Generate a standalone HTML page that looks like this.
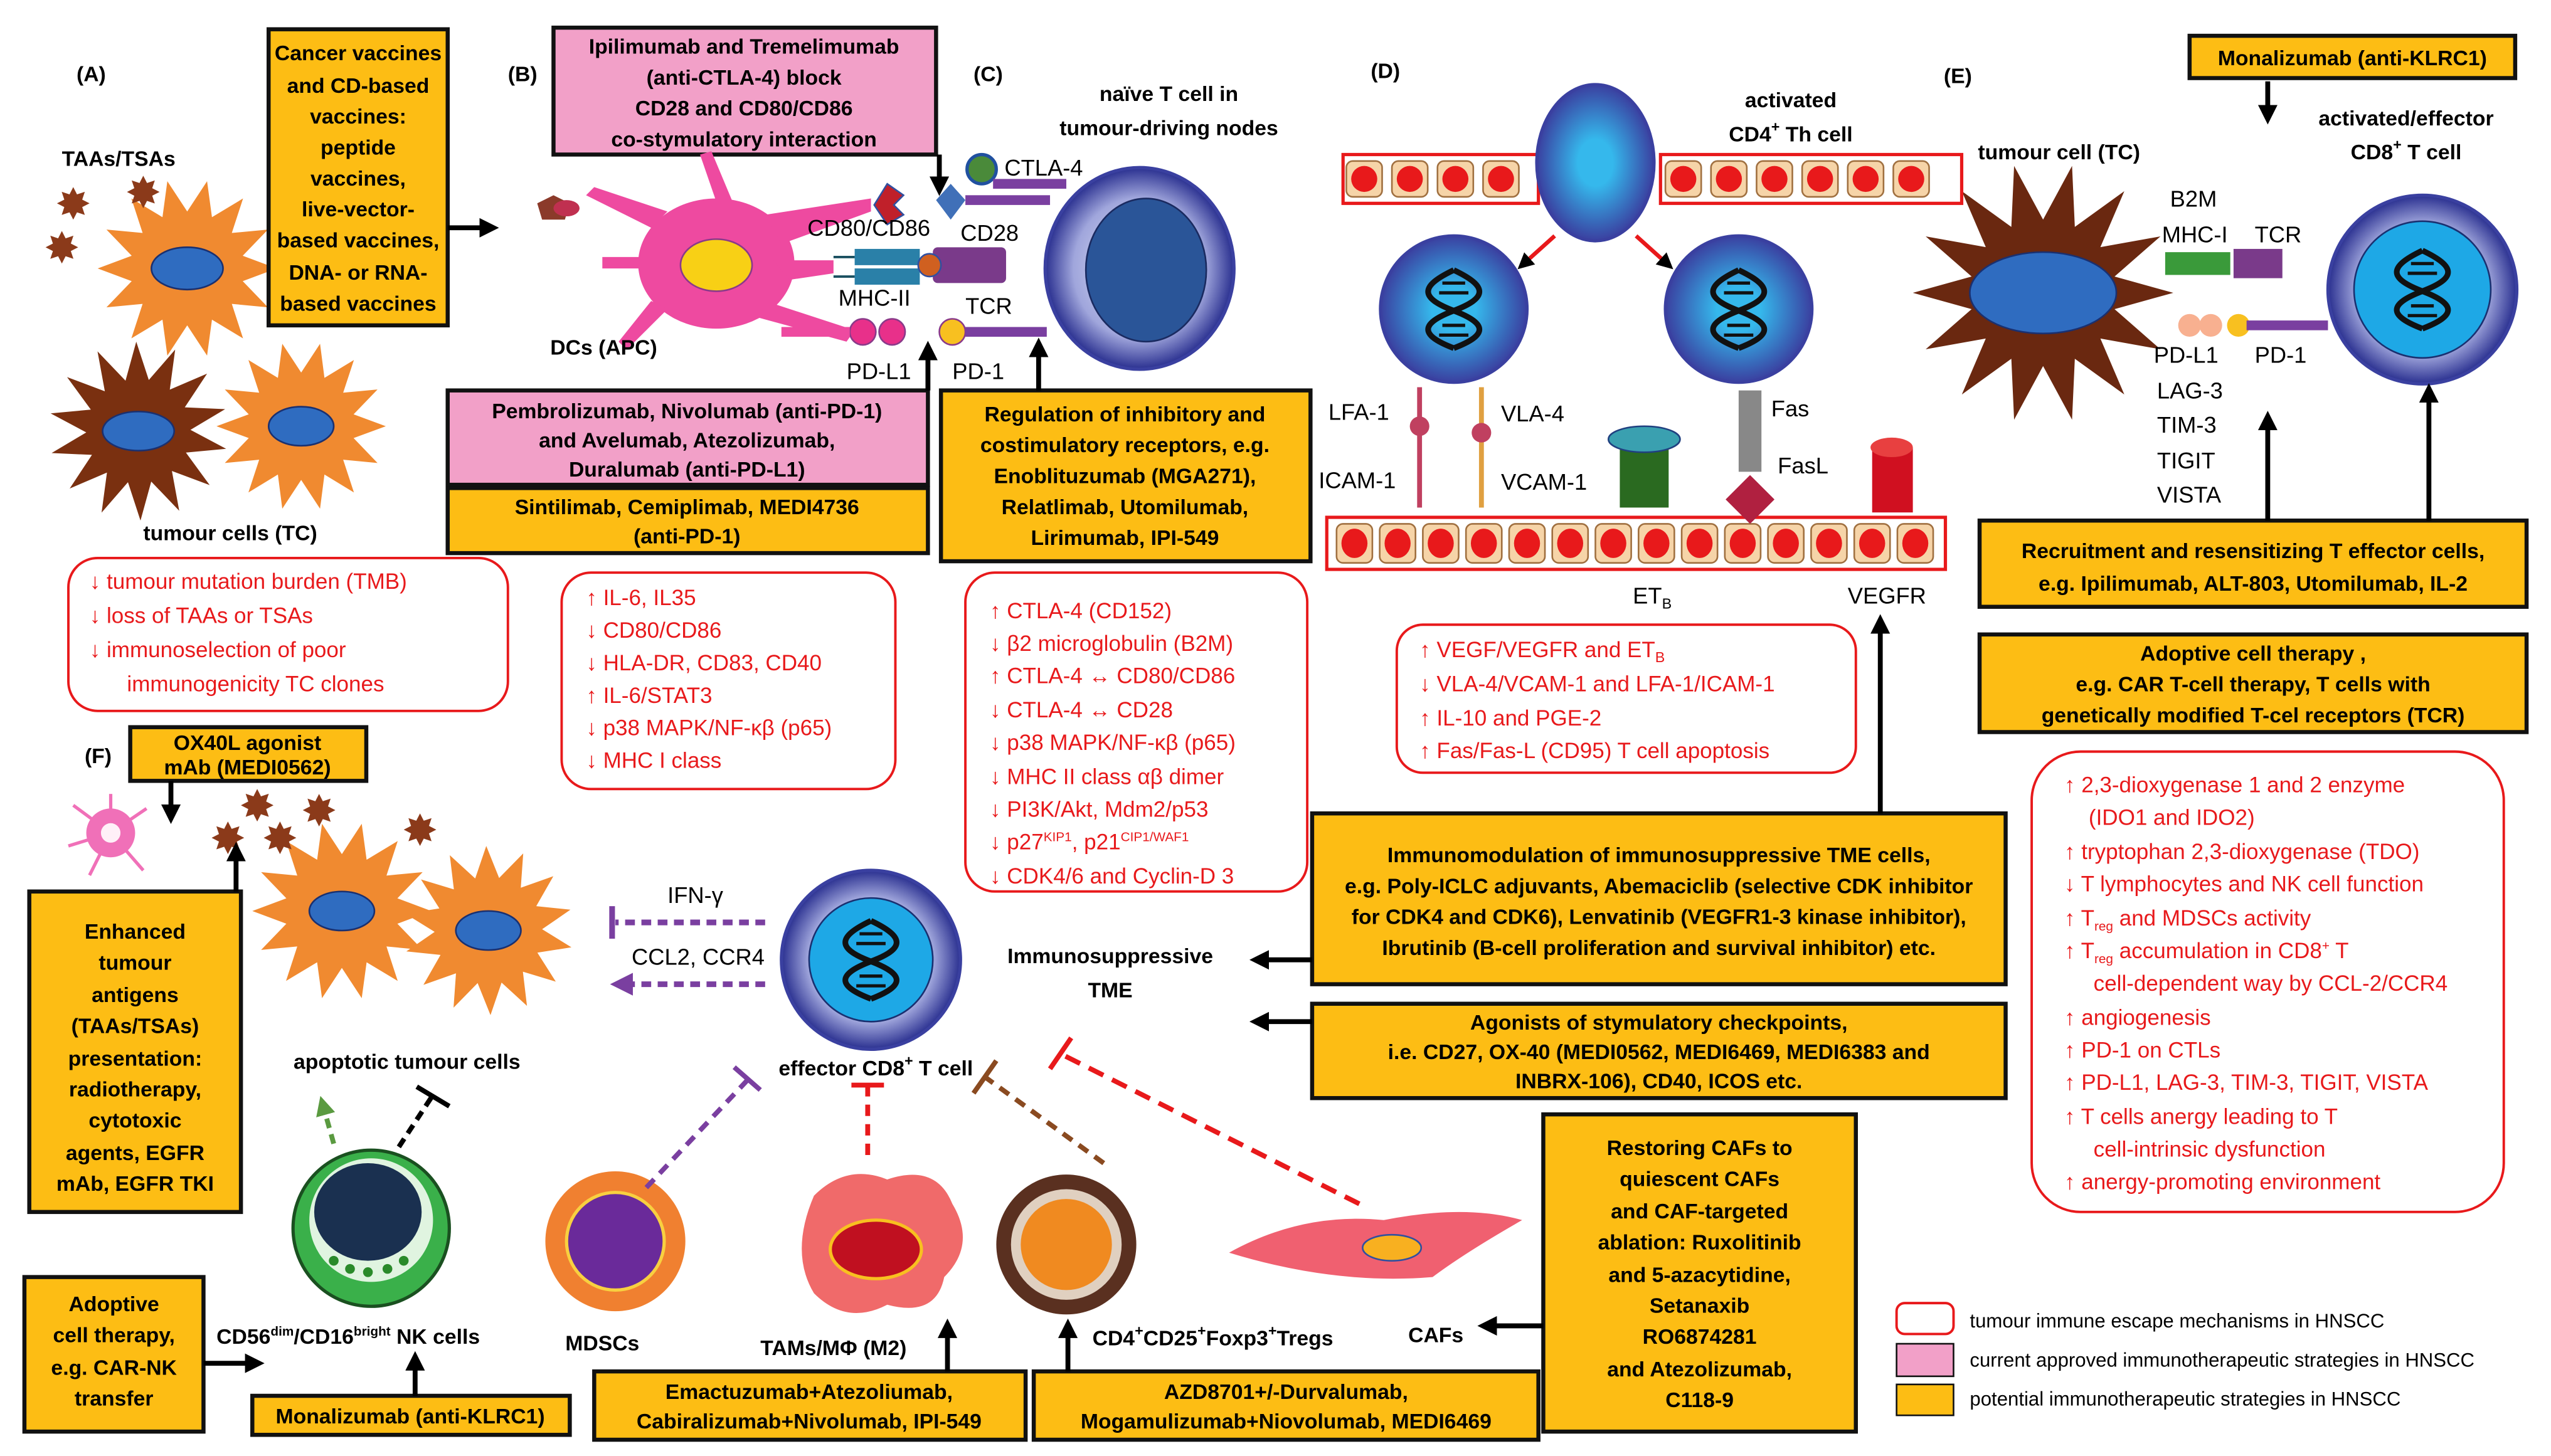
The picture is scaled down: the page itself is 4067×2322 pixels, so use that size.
<!DOCTYPE html>
<html><head><meta charset="utf-8"><style>
html,body{margin:0;padding:0;background:#fff;}
svg{display:block;}
text{font-family:"Liberation Sans",sans-serif;}
.b{font-weight:bold;font-size:13px;}
.l{font-size:14px;}
.r{font-size:13.5px;fill:#e8191b;}
.y{fill:#fdbd14;stroke:#111;stroke-width:2.5;}
.p{fill:#f2a0c8;stroke:#111;stroke-width:2.5;}
.rb{fill:#fff;stroke:#e8191b;stroke-width:1.5;}
.ar{stroke:#000;stroke-width:3;fill:none;marker-end:url(#ah);}
</style></head><body>
<svg width="4067" height="2322" viewBox="0 0 1567 895" preserveAspectRatio="none" xmlns="http://www.w3.org/2000/svg">
<defs>
<marker id="ah" markerWidth="4" markerHeight="4" refX="2.5" refY="2" orient="auto"><path d="M0,0 L4,2 L0,4z" fill="#000"/></marker>
<marker id="gh" markerWidth="4" markerHeight="4" refX="2.5" refY="2" orient="auto"><path d="M0,0 L4,2 L0,4z" fill="#5a9a40"/></marker>
<marker id="ph" markerWidth="4" markerHeight="4" refX="2.5" refY="2" orient="auto"><path d="M0,0 L4,2 L0,4z" fill="#7a3fa0"/></marker>
<radialGradient id="tc"><stop offset="0" stop-color="#e8eaf8"/><stop offset="0.7" stop-color="#a0a6dc"/><stop offset="1" stop-color="#2a3090"/></radialGradient>
<radialGradient id="ac"><stop offset="0.3" stop-color="#35b8ec"/><stop offset="1" stop-color="#3a40a0"/></radialGradient>
<g id="dna" fill="none" stroke="#111" stroke-width="3.5">
<path d="M-9,-20 C12,-10 12,-3 -9,5 C-30,13 -30,20 -9,28" transform="translate(9,-4)"/>
<path d="M9,-24 C-12,-14 -12,-7 9,1 C30,9 30,16 9,24" transform="translate(-9,0)"/>
<g stroke-width="2"><line x1="-7" y1="-16" x2="7" y2="-16"/><line x1="-9" y1="-10" x2="9" y2="-10"/><line x1="-7" y1="10" x2="7" y2="10"/><line x1="-9" y1="16" x2="9" y2="16"/></g>
</g>
</defs>
<rect width="1567" height="895" fill="#fff"/>

<g id="stars"></g>

<!-- ===== A ===== -->
<text x="47" y="50" class="b" font-size="15">(A)</text>
<text x="38" y="102" class="b" font-size="14">TAAs/TSAs</text>
<text x="88" y="332" class="b" font-size="14">tumour cells (TC)</text>
<rect x="165" y="18" width="110" height="182" class="y"/>
<g class="b" text-anchor="middle">
<text x="220" y="37">Cancer vaccines</text><text x="220" y="57">and CD-based</text><text x="220" y="76">vaccines:</text><text x="220" y="95">peptide</text><text x="220" y="114">vaccines,</text><text x="220" y="133">live-vector-</text><text x="220" y="152">based vaccines,</text><text x="220" y="172">DNA- or RNA-</text><text x="220" y="191">based vaccines</text>
</g>
<line x1="275" y1="140" x2="302" y2="140" class="ar"/>
<rect x="42" y="343" width="270" height="94" rx="18" class="rb"/>
<g class="r"><text x="55" y="362">↓  tumour mutation burden (TMB)</text><text x="55" y="383">↓  loss of TAAs or TSAs</text><text x="55" y="404">↓  immunoselection of poor</text><text x="78" y="425">immunogenicity TC clones</text></g>

<!-- ===== B ===== -->
<text x="312" y="50" class="b" font-size="15">(B)</text>
<rect x="340" y="17" width="235" height="78" class="p"/>
<g class="b" text-anchor="middle"><text x="457" y="33">Ipilimumab and Tremelimumab</text><text x="457" y="52">(anti-CTLA-4) block</text><text x="457" y="71">CD28 and CD80/CD86</text><text x="457" y="90">co-stymulatory interaction</text></g>
<line x1="577" y1="95" x2="577" y2="116" class="ar"/>
<g fill="#ee4aa0">
<ellipse cx="440" cy="162" rx="48" ry="40"/>
<path d="M470,132 L535,122 L535,130 L480,150z"/>
<path d="M475,160 L512,160 L512,168 L485,172z"/>
<path d="M470,185 L525,203 L520,210 L465,195z"/>
<path d="M400,140 L360,120 L365,115 L410,130z"/>
<path d="M410,190 L385,215 L380,210 L400,185z"/>
<path d="M440,124 L430,95 L437,93 L450,124z"/>
<path d="M405,165 L370,165 L370,158 L405,158z"/>
</g>
<ellipse cx="440" cy="163" rx="22" ry="16" fill="#f8d015" stroke="#8a3a8a"/>
<path d="M330,125 l10,-5 10,5 -3,10 -14,0z" fill="#8b3a2a"/>
<ellipse cx="348" cy="128" rx="8" ry="5" fill="#c03050"/>
<text x="338" y="218" class="b" font-size="14">DCs (APC)</text>
<path d="M545,113 l10,7 -6,6 6,6 -10,6 -8,-12z" fill="#c0202a" stroke="#3050a0"/>
<path d="M575,123 l9,-10 9,10 -9,12z" fill="#4070b8"/>
<rect x="593" y="120" width="52" height="6" fill="#7a3fa0"/>
<circle cx="603" cy="104" r="9" fill="#4a8a3a" stroke="#2050a0" stroke-width="2"/>
<rect x="610" y="110" width="45" height="6" fill="#7a3fa0"/>
<line x1="512" y1="158" x2="525" y2="158" stroke="#1a5060" stroke-width="1.5"/>
<line x1="512" y1="170" x2="525" y2="170" stroke="#1a5060" stroke-width="1.5"/>
<rect x="525" y="153" width="40" height="10" fill="#2a80a8"/><rect x="525" y="165" width="40" height="10" fill="#2a80a8"/>
<rect x="573" y="152" width="45" height="22" fill="#7a3a8a" rx="3"/>
<circle cx="571" cy="163" r="7" fill="#d06020" stroke="#3050a0"/>
<circle cx="530" cy="204" r="8" fill="#e8308a" stroke="#8a3a8a"/><circle cx="548" cy="204" r="8" fill="#e8308a" stroke="#8a3a8a"/>
<circle cx="585" cy="204" r="8" fill="#f8c020" stroke="#8a3a8a"/>
<rect x="480" y="201" width="42" height="6" fill="#ee4aa0"/>
<rect x="593" y="201" width="50" height="6" fill="#7a3fa0"/>
<g class="l"><text x="496" y="145">CD80/CD86</text><text x="590" y="148">CD28</text><text x="617" y="108">CTLA-4</text><text x="515" y="188">MHC-II</text><text x="593" y="193">TCR</text><text x="520" y="233">PD-L1</text><text x="585" y="233">PD-1</text></g>
<ellipse cx="700" cy="165" rx="58" ry="62" fill="url(#tc)" stroke="#3a40a0" stroke-width="2"/>
<ellipse cx="704" cy="166" rx="37" ry="44" fill="#2a5598" stroke="#1a2a60"/>
<text x="718" y="62" class="b" font-size="15" text-anchor="middle">naïve T cell in</text>
<text x="718" y="83" class="b" font-size="15" text-anchor="middle">tumour-driving nodes</text>
<rect x="275" y="240" width="295" height="58" class="p"/>
<g class="b" text-anchor="middle"><text x="422" y="257">Pembrolizumab, Nivolumab (anti-PD-1)</text><text x="422" y="275">and Avelumab, Atezolizumab,</text><text x="422" y="293">Duralumab (anti-PD-L1)</text></g>
<rect x="275" y="300" width="295" height="40" class="y"/>
<g class="b" text-anchor="middle"><text x="422" y="316">Sintilimab, Cemiplimab, MEDI4736</text><text x="422" y="334">(anti-PD-1)</text></g>
<line x1="570" y1="240" x2="570" y2="214" class="ar"/>
<rect x="345" y="352" width="205" height="133" rx="18" class="rb"/>
<g class="r"><text x="360" y="372">↑  IL-6, IL35</text><text x="360" y="392">↓   CD80/CD86</text><text x="360" y="412">↓   HLA-DR, CD83, CD40</text><text x="360" y="432">↑  IL-6/STAT3</text><text x="360" y="452">↓   p38 MAPK/NF-κβ (p65)</text><text x="360" y="472">↓   MHC I class</text></g>

<!-- ===== C ===== -->
<text x="598" y="50" class="b" font-size="15">(C)</text>
<rect x="578" y="240" width="227" height="105" class="y"/>
<g class="b" text-anchor="middle"><text x="691" y="259">Regulation of inhibitory and</text><text x="691" y="278">costimulatory receptors, e.g.</text><text x="691" y="297">Enoblituzumab (MGA271),</text><text x="691" y="316">Relatlimab, Utomilumab,</text><text x="691" y="335">Lirimumab, IPI-549</text></g>
<line x1="638" y1="240" x2="638" y2="212" class="ar"/>
<rect x="593" y="352" width="210" height="196" rx="18" class="rb"/>
<g class="r"><text x="608" y="380">↑  CTLA-4 (CD152)</text><text x="608" y="400">↓  β2 microglobulin (B2M)</text><text x="608" y="420">↑  CTLA-4 ↔ CD80/CD86</text><text x="608" y="441">↓  CTLA-4 ↔ CD28</text><text x="608" y="461">↓  p38 MAPK/NF-κβ (p65)</text><text x="608" y="482">↓  MHC II class αβ dimer</text><text x="608" y="502">↓  PI3K/Akt, Mdm2/p53</text><text x="608" y="522">↓  p27<tspan font-size="8" dy="-5">KIP1</tspan><tspan dy="5">, p21</tspan><tspan font-size="8" dy="-5">CIP1/WAF1</tspan></text><text x="608" y="543">↓  CDK4/6 and Cyclin-D 3</text></g>

<!-- ===== D ===== -->
<text x="842" y="48" class="b" font-size="15">(D)</text>
<g id="vessels"></g>
<ellipse cx="980" cy="100" rx="36" ry="48" fill="url(#ac)" stroke="#3a40a0" stroke-width="2"/>
<text x="1100" y="66" class="b" font-size="15" text-anchor="middle">activated</text>
<text x="1100" y="87" class="b" font-size="15" text-anchor="middle">CD4<tspan font-size="9" dy="-6">+</tspan><tspan dy="6"> Th cell</tspan></text>
<line x1="955" y1="145" x2="935" y2="163" stroke="#e8191b" stroke-width="2.5" marker-end="url(#ah)"/>
<line x1="1005" y1="145" x2="1025" y2="163" stroke="#e8191b" stroke-width="2.5" marker-end="url(#ah)"/>
<circle cx="893" cy="190" r="45" fill="url(#ac)" stroke="#3a40a0" stroke-width="2"/>
<circle cx="1068" cy="190" r="45" fill="url(#ac)" stroke="#3a40a0" stroke-width="2"/>
<use href="#dna" x="893" y="190"/><use href="#dna" x="1068" y="190"/>
<g class="l"><text x="816" y="258">LFA-1</text><text x="922" y="259">VLA-4</text><text x="810" y="300">ICAM-1</text><text x="922" y="301">VCAM-1</text><text x="1088" y="256">Fas</text><text x="1092" y="291">FasL</text><text x="1003" y="371">ET<tspan font-size="9" dy="3">B</tspan></text><text x="1135" y="371">VEGFR</text></g>
<line x1="872" y1="238" x2="872" y2="312" stroke="#c04060" stroke-width="3"/>
<circle cx="872" cy="262" r="6" fill="#c04060"/>
<line x1="910" y1="238" x2="910" y2="312" stroke="#e0a040" stroke-width="3"/>
<circle cx="910" cy="266" r="6" fill="#c04060"/>
<rect x="995" y="272" width="30" height="40" fill="#2a6a20"/><ellipse cx="1010" cy="270" rx="22" ry="8" fill="#3aa0b0" stroke="#204080"/>
<rect x="1068" y="240" width="14" height="50" fill="#888"/>
<path d="M1075,292 l15,15 -15,15 -15,-15z" fill="#b02040"/>
<rect x="1150" y="275" width="25" height="40" fill="#d01020"/><ellipse cx="1162" cy="275" rx="13" ry="6" fill="#e84040"/>
<rect x="858" y="384" width="282" height="91" rx="16" class="rb"/>
<g class="r"><text x="872" y="404">↑  VEGF/VEGFR and ET<tspan font-size="9" dy="3">B</tspan></text><text x="872" y="425">↓  VLA-4/VCAM-1 and LFA-1/ICAM-1</text><text x="872" y="446">↑  IL-10 and PGE-2</text><text x="872" y="466">↑  Fas/Fas-L (CD95) T cell apoptosis</text></g>

<!-- ===== E ===== -->
<text x="1194" y="51" class="b" font-size="15">(E)</text>
<rect x="1345" y="22" width="200" height="26" class="y"/>
<text x="1445" y="40" class="b" text-anchor="middle">Monalizumab (anti-KLRC1)</text>
<line x1="1393" y1="50" x2="1393" y2="72" class="ar"/>
<text x="1478" y="77" class="b" font-size="15" text-anchor="middle">activated/effector</text>
<text x="1478" y="98" class="b" font-size="15" text-anchor="middle">CD8<tspan font-size="9" dy="-6">+</tspan><tspan dy="6"> T cell</tspan></text>
<text x="1215" y="98" class="b" font-size="14">tumour cell (TC)</text>
<circle cx="1488" cy="178" r="58" fill="url(#tc)" stroke="#3a40a0" stroke-width="2"/>
<circle cx="1488" cy="178" r="42" fill="#1ea8e6" stroke="#1a3070"/>
<use href="#dna" x="1488" y="178"/>
<g class="l"><text x="1333" y="127">B2M</text><text x="1328" y="149">MHC-I</text><text x="1385" y="149">TCR</text><text x="1323" y="223">PD-L1</text><text x="1385" y="223">PD-1</text><text x="1325" y="245">LAG-3</text><text x="1325" y="266">TIM-3</text><text x="1325" y="288">TIGIT</text><text x="1325" y="309">VISTA</text></g>
<rect x="1330" y="155" width="40" height="14" fill="#3a9a3a"/><rect x="1372" y="153" width="30" height="18" fill="#7a3a8a"/>
<circle cx="1345" cy="200" r="7" fill="#f8b090"/><circle cx="1358" cy="200" r="7" fill="#f8b090"/><circle cx="1375" cy="200" r="7" fill="#f8c020"/>
<rect x="1380" y="197" width="50" height="6" fill="#7a3fa0"/>
<rect x="1216" y="320" width="336" height="53" class="y"/>
<g class="b" text-anchor="middle"><text x="1384" y="343">Recruitment and resensitizing T effector cells,</text><text x="1384" y="363">e.g. Ipilimumab, ALT-803, Utomilumab, IL-2</text></g>
<line x1="1393" y1="320" x2="1393" y2="257" class="ar"/>
<line x1="1492" y1="320" x2="1492" y2="240" class="ar"/>
<rect x="1216" y="390" width="336" height="60" class="y"/>
<g class="b" text-anchor="middle"><text x="1384" y="406">Adoptive cell therapy ,</text><text x="1384" y="425">e.g. CAR T-cell therapy, T cells with</text><text x="1384" y="444">genetically modified T-cel receptors (TCR)</text></g>
<rect x="1248" y="462" width="290" height="283" rx="30" class="rb"/>
<g class="r"><text x="1268" y="487">↑ 2,3-dioxygenase 1 and 2 enzyme</text><text x="1283" y="507">(IDO1 and IDO2)</text><text x="1268" y="528">↑  tryptophan 2,3-dioxygenase (TDO)</text><text x="1268" y="548">↓ T lymphocytes and NK cell function</text><text x="1268" y="569">↑  T<tspan font-size="8" dy="3">reg</tspan><tspan dy="-3"> and MDSCs activity</tspan></text><text x="1268" y="589">↑  T<tspan font-size="8" dy="3">reg</tspan><tspan dy="-3"> accumulation in CD8</tspan><tspan font-size="8" dy="-5">+</tspan><tspan dy="5"> T</tspan></text><text x="1286" y="609">cell-dependent way by CCL-2/CCR4</text><text x="1268" y="630">↑  angiogenesis</text><text x="1268" y="650">↑  PD-1 on CTLs</text><text x="1268" y="670">↑  PD-L1, LAG-3, TIM-3, TIGIT, VISTA</text><text x="1268" y="691">↑  T cells anergy leading to T</text><text x="1286" y="711">cell-intrinsic dysfunction</text><text x="1268" y="731">↑  anergy-promoting environment</text></g>

<!-- ===== F ===== -->
<text x="52" y="469" class="b" font-size="15">(F)</text>
<rect x="80" y="447" width="145" height="33" class="y"/>
<g class="b" text-anchor="middle"><text x="152" y="461">OX40L agonist</text><text x="152" y="476">mAb (MEDI0562)</text></g>
<g stroke="#f070b8" stroke-width="2"><line x1="68" y1="512" x2="45" y2="495"/><line x1="68" y1="512" x2="90" y2="497"/><line x1="68" y1="512" x2="42" y2="520"/><line x1="68" y1="512" x2="55" y2="538"/><line x1="68" y1="512" x2="88" y2="535"/><line x1="68" y1="512" x2="68" y2="488"/></g>
<circle cx="68" cy="512" r="15" fill="#f070b8"/><circle cx="68" cy="512" r="6" fill="#fff0f8"/>
<line x1="105" y1="480" x2="105" y2="502" class="ar"/>
<text x="250" y="657" class="b" font-size="14" text-anchor="middle">apoptotic tumour cells</text>
<rect x="18" y="548" width="130" height="197" class="y"/>
<g class="b" text-anchor="middle"><text x="83" y="577">Enhanced</text><text x="83" y="596">tumour</text><text x="83" y="616">antigens</text><text x="83" y="635">(TAAs/TSAs)</text><text x="83" y="655">presentation:</text><text x="83" y="674">radiotherapy,</text><text x="83" y="693">cytotoxic</text><text x="83" y="713">agents, EGFR</text><text x="83" y="732">mAb, EGFR TKI</text></g>
<line x1="145" y1="548" x2="145" y2="522" class="ar"/>
<circle cx="535" cy="590" r="55" fill="url(#tc)" stroke="#3a40a0" stroke-width="2"/>
<circle cx="535" cy="590" r="38" fill="#1ea8e6" stroke="#1a3070"/>
<use href="#dna" x="535" y="590"/>
<text x="538" y="661" class="b" font-size="14" text-anchor="middle">effector CD8<tspan font-size="9" dy="-6">+</tspan><tspan dy="6"> T cell</tspan></text>
<g class="l"><text x="410" y="555">IFN-γ</text><text x="388" y="593">CCL2, CCR4</text></g>
<line x1="470" y1="567" x2="378" y2="567" stroke="#7a3fa0" stroke-width="3.5" stroke-dasharray="6,4"/>
<line x1="376" y1="557" x2="376" y2="577" stroke="#7a3fa0" stroke-width="3.5"/>
<line x1="470" y1="605" x2="380" y2="605" stroke="#7a3fa0" stroke-width="3.5" stroke-dasharray="6,4" marker-end="url(#ph)"/>
<text x="682" y="592" class="b" font-size="15" text-anchor="middle">Immunosuppressive</text>
<text x="682" y="613" class="b" font-size="15" text-anchor="middle">TME</text>
<rect x="806" y="500" width="426" height="105" class="y"/>
<g class="b" text-anchor="middle"><text x="1019" y="530">Immunomodulation of immunosuppressive TME cells,</text><text x="1019" y="549">e.g. Poly-ICLC adjuvants, Abemaciclib (selective CDK inhibitor</text><text x="1019" y="568">for CDK4 and CDK6), Lenvatinib (VEGFR1-3 kinase inhibitor),</text><text x="1019" y="587">Ibrutinib (B-cell proliferation and survival inhibitor) etc.</text></g>
<line x1="806" y1="590" x2="772" y2="590" class="ar"/>
<line x1="1155" y1="500" x2="1155" y2="382" class="ar"/>
<rect x="806" y="617" width="426" height="58" class="y"/>
<g class="b" text-anchor="middle"><text x="1019" y="633">Agonists of stymulatory checkpoints,</text><text x="1019" y="651">i.e. CD27, OX-40 (MEDI0562, MEDI6469, MEDI6383 and</text><text x="1019" y="669">INBRX-106), CD40, ICOS etc.</text></g>
<line x1="806" y1="628" x2="772" y2="628" class="ar"/>
<circle cx="228" cy="755" r="48" fill="#3ab04a" stroke="#1a5020" stroke-width="2"/>
<circle cx="228" cy="750" r="38" fill="#e0f4e0"/>
<ellipse cx="226" cy="745" rx="33" ry="30" fill="#1a3050"/>
<g fill="#2a8a2a"><circle cx="205" cy="775" r="3"/><circle cx="215" cy="780" r="3"/><circle cx="226" cy="782" r="3"/><circle cx="238" cy="780" r="3"/><circle cx="248" cy="775" r="3"/></g>
<text x="133" y="826" class="b" font-size="14">CD56<tspan font-size="8" dy="-5">dim</tspan><tspan dy="5">/CD16</tspan><tspan font-size="8" dy="-5">bright</tspan><tspan dy="5"> NK cells</tspan></text>
<circle cx="378" cy="763" r="43" fill="#f08030"/><circle cx="378" cy="763" r="30" fill="#6a2a9a" stroke="#f8d040" stroke-width="2"/>
<text x="370" y="830" class="b" font-size="14" text-anchor="middle">MDSCs</text>
<path d="M500,735 Q520,715 545,725 Q575,715 585,740 Q600,765 580,785 Q575,810 545,802 Q520,815 500,795 Q485,770 500,735z" fill="#f06a6a"/>
<ellipse cx="538" cy="768" rx="28" ry="18" fill="#c01020" stroke="#f8c020" stroke-width="2"/>
<text x="512" y="833" class="b" font-size="14" text-anchor="middle">TAMs/MΦ (M2)</text>
<circle cx="655" cy="765" r="43" fill="#5a3020"/><circle cx="655" cy="765" r="34" fill="#e0d0c0"/><circle cx="655" cy="765" r="28" fill="#f08a20"/>
<text x="745" y="827" class="b" font-size="14" text-anchor="middle">CD4<tspan font-size="9" dy="-6">+</tspan><tspan dy="6">CD25</tspan><tspan font-size="9" dy="-6">+</tspan><tspan dy="6">Foxp3</tspan><tspan font-size="9" dy="-6">+</tspan><tspan dy="6">Tregs</tspan></text>
<path d="M755,770 Q800,745 850,750 Q900,740 935,750 Q900,770 880,785 Q820,790 755,770z" fill="#f06070"/>
<ellipse cx="855" cy="767" rx="18" ry="8" fill="#f8b020" stroke="#3050a0"/>
<text x="882" y="825" class="b" font-size="14" text-anchor="middle">CAFs</text>
<line x1="205" y1="703" x2="198" y2="678" stroke="#5a9a40" stroke-width="3" stroke-dasharray="6,4" marker-end="url(#gh)"/>
<line x1="245" y1="705" x2="266" y2="673" stroke="#000" stroke-width="3" stroke-dasharray="6,4"/>
<line x1="256" y1="668" x2="276" y2="680" stroke="#000" stroke-width="3"/>
<line x1="397" y1="730" x2="460" y2="663" stroke="#7a3fa0" stroke-width="3" stroke-dasharray="7,5"/>
<line x1="451" y1="656" x2="467" y2="670" stroke="#7a3fa0" stroke-width="3"/>
<line x1="533" y1="710" x2="533" y2="668" stroke="#e8191b" stroke-width="3" stroke-dasharray="7,5"/>
<line x1="523" y1="667" x2="543" y2="667" stroke="#e8191b" stroke-width="3"/>
<line x1="678" y1="715" x2="605" y2="662" stroke="#8a4a20" stroke-width="3" stroke-dasharray="7,5"/>
<line x1="598" y1="672" x2="612" y2="652" stroke="#8a4a20" stroke-width="3"/>
<line x1="835" y1="740" x2="652" y2="648" stroke="#e8191b" stroke-width="3" stroke-dasharray="10,6"/>
<line x1="645" y1="657" x2="658" y2="638" stroke="#e8191b" stroke-width="3"/>
<rect x="948" y="685" width="192" height="195" class="y"/>
<g class="b" text-anchor="middle"><text x="1044" y="710">Restoring CAFs to</text><text x="1044" y="729">quiescent CAFs</text><text x="1044" y="749">and CAF-targeted</text><text x="1044" y="768">ablation: Ruxolitinib</text><text x="1044" y="788">and 5-azacytidine,</text><text x="1044" y="807">Setanaxib</text><text x="1044" y="826">RO6874281</text><text x="1044" y="846">and Atezolizumab,</text><text x="1044" y="865">C118-9</text></g>
<line x1="948" y1="815" x2="912" y2="815" class="ar"/>
<rect x="15" y="785" width="110" height="95" class="y"/>
<g class="b" text-anchor="middle"><text x="70" y="806">Adoptive</text><text x="70" y="825">cell therapy,</text><text x="70" y="845">e.g. CAR-NK</text><text x="70" y="864">transfer</text></g>
<line x1="125" y1="838" x2="158" y2="838" class="ar"/>
<rect x="155" y="858" width="195" height="24" class="y"/>
<text x="252" y="875" class="b" text-anchor="middle">Monalizumab (anti-KLRC1)</text>
<line x1="255" y1="858" x2="255" y2="835" class="ar"/>
<rect x="365" y="843" width="265" height="42" class="y"/>
<g class="b" text-anchor="middle"><text x="497" y="860">Emactuzumab+Atezoliumab,</text><text x="497" y="878">Cabiralizumab+Nivolumab, IPI-549</text></g>
<line x1="582" y1="843" x2="582" y2="815" class="ar"/>
<rect x="635" y="843" width="310" height="42" class="y"/>
<g class="b" text-anchor="middle"><text x="790" y="860">AZD8701+/-Durvalumab,</text><text x="790" y="878">Mogamulizumab+Niovolumab, MEDI6469</text></g>
<line x1="656" y1="843" x2="656" y2="815" class="ar"/>
<rect x="1165" y="801" width="35" height="19" rx="5" class="rb"/>
<rect x="1165" y="826" width="35" height="20" fill="#f2a0c8" stroke="#111"/>
<rect x="1165" y="851" width="35" height="19" fill="#fdbd14" stroke="#111"/>
<g font-size="12"><text x="1210" y="816">tumour immune escape mechanisms in HNSCC</text><text x="1210" y="840">current approved immunotherapeutic strategies in HNSCC</text><text x="1210" y="864">potential immunotherapeutic strategies in HNSCC</text></g>
</svg>
<script>
var NS="http://www.w3.org/2000/svg";
function star(cx,cy,R,r,n,fill,nuc,rot){var g=document.getElementById("stars"),p=[];rot=rot||0;
for(var i=0;i<2*n;i++){var a=rot+Math.PI*i/n,rr=i%2?r:R;p.push((cx+rr*Math.cos(a)).toFixed(1)+","+(cy+rr*Math.sin(a)).toFixed(1));}
var e=document.createElementNS(NS,"polygon");e.setAttribute("points",p.join(" "));e.setAttribute("fill",fill);g.appendChild(e);
if(nuc){var el=document.createElementNS(NS,"ellipse");el.setAttribute("cx",cx);el.setAttribute("cy",cy);el.setAttribute("rx",nuc[0]);el.setAttribute("ry",nuc[1]);el.setAttribute("fill","#2f6cc0");el.setAttribute("stroke","#1a3070");g.appendChild(el);}}
star(115,165,55,35,14,"#f08a30",[22,13]);star(85,265,55,32,14,"#7a3010",[22,12],0.2);star(185,262,52,33,14,"#f08a30",[20,12]);
star(45,125,10,6,8,"#8b3a1a");star(88,118,10,6,8,"#8b3a1a");star(38,152,10,6,8,"#8b3a1a");
star(1255,180,80,45,14,"#6a2810",[45,25]);
star(210,560,55,35,14,"#f08a30",[20,12]);star(300,572,52,33,14,"#f08a30",[20,12],0.2);
[[140,515],[158,495],[172,515],[196,498],[258,510]].forEach(function(c){star(c[0],c[1],10,6,8,"#8b3a1a");});
var v=document.getElementById("vessels");
function vessel(x,y,w,h,cells){var r=document.createElementNS(NS,"rect");r.setAttribute("x",x);r.setAttribute("y",y);r.setAttribute("width",w);r.setAttribute("height",h);r.setAttribute("fill","#fff");r.setAttribute("stroke","#e8191b");r.setAttribute("stroke-width","2");v.appendChild(r);
cells.forEach(function(cx){var b=document.createElementNS(NS,"rect");b.setAttribute("x",cx-11);b.setAttribute("y",y+4);b.setAttribute("width",22);b.setAttribute("height",h-8);b.setAttribute("rx",4);b.setAttribute("fill","#f6d4a8");b.setAttribute("stroke","#a07040");v.appendChild(b);
var c=document.createElementNS(NS,"ellipse");c.setAttribute("cx",cx);c.setAttribute("cy",y+h/2);c.setAttribute("rx",8);c.setAttribute("ry",h/2-7);c.setAttribute("fill","#e8191b");v.appendChild(c);});}
vessel(825,95,120,30,[838,866,894,922]);vessel(1020,95,185,30,[1034,1062,1090,1118,1146,1174]);
var a=[];for(var i=0;i<14;i++)a.push(832+i*26.5);vessel(815,318,380,32,a);
</script>
</body></html>
